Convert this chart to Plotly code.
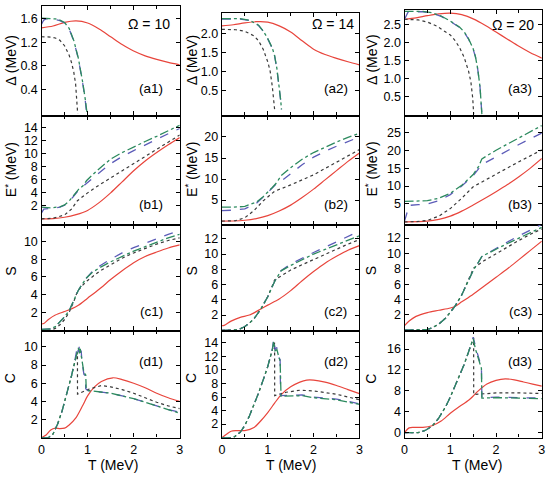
import plotly.graph_objects as go

# ---------------- data ----------------
# Panel (a): pairing gap Delta (MeV)
a1_red_T = [0, 0.25, 0.5, 0.75, 1.0, 1.25, 1.5, 1.75, 2.0, 2.25, 2.5, 2.75, 3.0]
a1_red_v = [1.44, 1.47, 1.53, 1.555, 1.52, 1.42, 1.29, 1.16, 1.05, 0.97, 0.91, 0.86, 0.82]
a1_dot_T = [0, 0.1, 0.2, 0.3, 0.4, 0.5, 0.6, 0.65, 0.7, 0.74, 0.77, 0.785]
a1_dot_v = [1.29, 1.29, 1.285, 1.27, 1.23, 1.14, 0.98, 0.86, 0.7, 0.5, 0.25, 0.0]
a1_blu_T = [0, 0.05, 0.1, 0.3, 0.4, 0.5, 0.6, 0.7, 0.8, 0.85, 0.9, 0.95, 0.98]
a1_blu_v = [1.5, 1.57, 1.59, 1.58, 1.56, 1.52, 1.42, 1.22, 0.92, 0.72, 0.48, 0.22, 0.0]
a1_grn_T = [0, 0.3, 0.4, 0.5, 0.6, 0.7, 0.8, 0.85, 0.9, 0.95, 0.99]
a1_grn_v = [1.6, 1.59, 1.57, 1.53, 1.43, 1.23, 0.93, 0.73, 0.5, 0.24, 0.0]

a2_red_T = [0, 0.25, 0.5, 0.75, 1.0, 1.25, 1.5, 1.75, 2.0, 2.25, 2.5, 2.75, 3.0]
a2_red_v = [2.19, 2.22, 2.27, 2.30, 2.29, 2.19, 2.03, 1.8, 1.58, 1.44, 1.34, 1.25, 1.17]
a2_dot_T = [0, 0.3, 0.5, 0.7, 0.8, 0.9, 1.0, 1.05, 1.1, 1.13, 1.15]
a2_dot_v = [2.10, 2.09, 2.05, 1.93, 1.8, 1.58, 1.25, 1.02, 0.6, 0.3, 0.0]
a2_blu_T = [0, 0.4, 0.6, 0.8, 0.9, 1.0, 1.1, 1.15, 1.2, 1.25, 1.28, 1.3]
a2_blu_v = [2.37, 2.37, 2.33, 2.2, 2.05, 1.85, 1.6, 1.4, 1.05, 0.6, 0.25, 0.0]
a2_grn_T = [0, 0.4, 0.6, 0.8, 0.9, 1.0, 1.1, 1.15, 1.2, 1.25, 1.28, 1.3]
a2_grn_v = [2.38, 2.38, 2.34, 2.21, 2.06, 1.86, 1.61, 1.41, 1.07, 0.62, 0.27, 0.0]

a3_red_T = [0, 0.25, 0.5, 0.75, 1.0, 1.25, 1.5, 1.75, 2.0, 2.25, 2.5, 2.75, 3.0]
a3_red_v = [2.66, 2.70, 2.76, 2.81, 2.83, 2.79, 2.67, 2.5, 2.3, 2.1, 1.9, 1.72, 1.57]
a3_dot_T = [0, 0.3, 0.5, 0.7, 0.9, 1.0, 1.1, 1.2, 1.3, 1.4, 1.45, 1.49, 1.51]
a3_dot_v = [2.66, 2.64, 2.58, 2.47, 2.3, 2.22, 2.07, 1.87, 1.6, 1.2, 0.9, 0.45, 0.0]
a3_blu_T = [0, 0.08, 0.4, 0.6, 0.8, 1.0, 1.2, 1.3, 1.4, 1.5, 1.55, 1.6, 1.65, 1.69]
a3_blu_v = [2.66, 2.87, 2.87, 2.83, 2.74, 2.6, 2.43, 2.3, 2.1, 1.82, 1.6, 1.25, 0.75, 0.0]
a3_grn_T = [0, 0.4, 0.6, 0.8, 1.0, 1.2, 1.3, 1.4, 1.5, 1.55, 1.6, 1.65, 1.69]
a3_grn_v = [2.88, 2.88, 2.84, 2.75, 2.61, 2.44, 2.31, 2.11, 1.83, 1.61, 1.26, 0.76, 0.0]

# Panel (b): excitation energy E* (MeV)
b1_red_T = [0, 0.25, 0.5, 0.75, 1.0, 1.25, 1.5, 1.75, 2.0, 2.25, 2.5, 2.75, 3.0]
b1_red_v = [0, 0.05, 0.25, 0.65, 1.3, 2.5, 4.0, 5.7, 7.4, 8.9, 10.2, 11.4, 12.5]
b1_dot_T = [0, 0.25, 0.5, 0.65, 0.78, 1.0, 1.25, 1.5, 1.75, 2.0, 2.25, 2.5, 2.75, 3.0]
b1_dot_v = [0, 0.1, 0.6, 1.5, 2.8, 4.0, 5.2, 6.3, 7.4, 8.5, 9.6, 10.6, 11.8, 12.9]
b1_blu_T = [0, 0.05, 0.2, 0.4, 0.5, 0.6, 0.7, 0.8, 0.9, 0.98, 1.2, 1.5, 1.75, 2.0, 2.25, 2.5, 2.75, 3.0]
b1_blu_v = [0.9, 1.5, 1.6, 1.8, 2.1, 2.7, 3.5, 4.4, 5.0, 5.5, 6.8, 8.5, 9.6, 10.5, 11.4, 12.2, 13.1, 13.9]
b1_grn_T = [0, 0.2, 0.4, 0.5, 0.6, 0.7, 0.8, 0.9, 0.98, 1.2, 1.5, 1.75, 2.0, 2.25, 2.5, 2.75, 3.0]
b1_grn_v = [1.8, 1.7, 1.85, 2.15, 2.75, 3.6, 4.5, 5.1, 5.9, 7.4, 9.2, 10.2, 11.1, 11.9, 12.7, 13.6, 14.4]

b2_red_T = [0, 0.25, 0.5, 0.75, 1.0, 1.25, 1.5, 1.75, 2.0, 2.25, 2.5, 2.75, 3.0]
b2_red_v = [0, 0.03, 0.2, 0.6, 1.3, 2.4, 3.8, 5.6, 7.6, 9.8, 12.0, 14.2, 16.2]
b2_dot_T = [0, 0.3, 0.5, 0.7, 0.9, 1.15, 1.5, 2.0, 2.5, 3.0]
b2_dot_v = [0, 0.1, 0.8, 2.5, 4.8, 7.1, 8.6, 11.0, 14.0, 17.0]
b2_blu_T = [0, 0.25, 0.5, 0.75, 0.9, 1.0, 1.1, 1.2, 1.29, 1.5, 1.75, 2.0, 2.25, 2.5, 2.75, 3.0]
b2_blu_v = [2.5, 2.6, 2.9, 4.2, 5.7, 6.8, 8.0, 9.0, 9.5, 11.3, 13.4, 15.2, 16.6, 17.8, 18.9, 20.0]
b2_grn_T = [0, 0.25, 0.5, 0.75, 0.9, 1.0, 1.1, 1.2, 1.29, 1.5, 1.75, 2.0, 2.25, 2.5, 2.75, 3.0]
b2_grn_v = [3.3, 3.3, 3.5, 4.5, 5.8, 6.8, 8.0, 9.2, 10.8, 12.7, 14.7, 16.3, 17.6, 18.8, 19.9, 20.9]

b3_red_T = [0, 0.5, 0.75, 1.0, 1.25, 1.5, 1.75, 2.0, 2.25, 2.5, 2.75, 3.0]
b3_red_v = [0, 0.2, 0.7, 1.6, 3.0, 4.7, 6.5, 8.4, 10.4, 12.6, 15.0, 17.7]
b3_dot_T = [0, 0.25, 0.5, 0.75, 1.0, 1.25, 1.5, 1.75, 2.0, 2.5, 3.0]
b3_dot_v = [0, 0.05, 0.4, 1.6, 3.7, 6.6, 9.8, 11.6, 13.3, 16.8, 20.1]
b3_blu_T = [0, 0.05, 0.1, 0.3, 0.5, 0.75, 1.0, 1.25, 1.5, 1.69, 2.0, 2.25, 2.5, 2.75, 3.0]
b3_blu_v = [0.2, 2.5, 4.6, 4.8, 5.0, 5.9, 7.6, 10.0, 12.9, 16.0, 18.2, 19.9, 21.6, 23.2, 24.8]
b3_grn_T = [0, 0.3, 0.5, 0.75, 1.0, 1.25, 1.5, 1.62, 1.69, 2.0, 2.25, 2.5, 2.75, 3.0]
b3_grn_v = [5.7, 5.7, 5.9, 6.6, 8.0, 10.2, 13.2, 15.5, 17.6, 20.0, 21.7, 23.3, 25.1, 26.9]

# Panel (c): entropy S
c1_red_T = [0, 0.05, 0.15, 0.3, 0.5, 0.65, 0.8, 1.0, 1.25, 1.5, 1.75, 2.0, 2.25, 2.5, 2.75, 3.0]
c1_red_v = [0.7, 0.75, 1.2, 1.7, 2.1, 2.4, 2.8, 3.6, 4.6, 5.7, 6.7, 7.6, 8.3, 8.8, 9.25, 9.6]
c1_dot_T = [0, 0.2, 0.3, 0.4, 0.5, 0.6, 0.7, 0.78, 0.9, 1.0, 1.25, 1.5, 1.75, 2.0, 2.25, 2.5, 2.75, 3.0]
c1_dot_v = [0, 0.02, 0.2, 0.6, 1.2, 2.0, 3.2, 4.4, 5.1, 5.6, 6.6, 7.4, 8.1, 8.7, 9.2, 9.7, 10.1, 10.4]
c1_blu_T = [0, 0.2, 0.3, 0.4, 0.5, 0.6, 0.7, 0.8, 0.9, 0.98, 1.1, 1.25, 1.5, 1.75, 2.0, 2.25, 2.5, 2.75, 3.0]
c1_blu_v = [0.1, 0.15, 0.4, 0.9, 1.5, 2.2, 3.3, 4.5, 5.3, 5.9, 6.6, 7.2, 8.0, 8.7, 9.3, 9.8, 10.3, 10.8, 11.2]
c1_grn_T = [0, 0.2, 0.3, 0.4, 0.5, 0.6, 0.7, 0.8, 0.9, 0.98, 1.1, 1.25, 1.5, 1.75, 2.0, 2.25, 2.5, 2.75, 3.0]
c1_grn_v = [0.1, 0.15, 0.4, 0.9, 1.5, 2.2, 3.3, 4.5, 5.3, 5.9, 6.5, 7.0, 7.7, 8.3, 8.9, 9.4, 9.9, 10.4, 10.8]

c2_red_T = [0, 0.05, 0.2, 0.4, 0.6, 0.85, 1.0, 1.25, 1.5, 1.75, 2.0, 2.25, 2.5, 2.75, 3.0]
c2_red_v = [0.6, 0.65, 1.2, 1.7, 2.0, 2.8, 3.3, 4.1, 5.2, 6.5, 7.7, 8.8, 9.7, 10.5, 11.1]
c2_dot_T = [0, 0.3, 0.4, 0.5, 0.6, 0.7, 0.85, 1.0, 1.15, 1.3, 1.5, 1.75, 2.0, 2.25, 2.5, 2.75, 3.0]
c2_dot_v = [0, 0.05, 0.2, 0.5, 0.95, 1.5, 2.8, 4.4, 6.6, 7.2, 7.9, 8.6, 9.3, 10.0, 10.7, 11.3, 11.9]
c2_blu_T = [0, 0.3, 0.4, 0.5, 0.6, 0.7, 0.85, 1.0, 1.15, 1.29, 1.5, 1.75, 2.0, 2.25, 2.5, 2.75, 3.0]
c2_blu_v = [0, 0.05, 0.2, 0.5, 0.95, 1.5, 2.8, 4.4, 6.4, 7.8, 8.7, 9.5, 10.2, 10.9, 11.6, 12.3, 13.0]
c2_grn_T = [0, 0.3, 0.4, 0.5, 0.6, 0.7, 0.85, 1.0, 1.15, 1.29, 1.5, 1.75, 2.0, 2.25, 2.5, 2.75, 3.0]
c2_grn_v = [0, 0.05, 0.2, 0.5, 0.95, 1.5, 2.8, 4.4, 6.4, 7.8, 8.5, 9.3, 10.0, 10.6, 11.2, 11.8, 12.4]

c3_red_T = [0, 0.1, 0.25, 0.5, 0.75, 1.0, 1.1, 1.25, 1.5, 1.75, 2.0, 2.25, 2.5, 2.75, 3.0]
c3_red_v = [0.6, 1.2, 1.8, 2.3, 2.6, 2.9, 3.1, 3.7, 4.7, 5.8, 6.9, 8.0, 9.2, 10.4, 11.6]
c3_dot_T = [0, 0.4, 0.5, 0.6, 0.75, 0.9, 1.0, 1.1, 1.25, 1.4, 1.51, 1.75, 2.0, 2.25, 2.5, 2.75, 3.0]
c3_dot_v = [0, 0.02, 0.1, 0.3, 0.8, 1.6, 2.3, 3.1, 4.6, 6.6, 8.1, 9.1, 10.0, 10.9, 11.7, 12.5, 13.2]
c3_blu_T = [0, 0.4, 0.5, 0.6, 0.75, 0.9, 1.0, 1.1, 1.25, 1.4, 1.51, 1.6, 1.69, 1.75, 2.0, 2.25, 2.5, 2.75, 3.0]
c3_blu_v = [0, 0.02, 0.1, 0.3, 0.8, 1.6, 2.3, 3.1, 4.6, 6.6, 7.9, 8.7, 9.6, 9.8, 10.7, 11.5, 12.3, 13.0, 13.8]
c3_grn_T = [0, 0.4, 0.5, 0.6, 0.75, 0.9, 1.0, 1.1, 1.25, 1.4, 1.51, 1.6, 1.69, 1.75, 2.0, 2.25, 2.5, 2.75, 3.0]
c3_grn_v = [0, 0.02, 0.1, 0.3, 0.8, 1.6, 2.3, 3.1, 4.6, 6.6, 7.9, 8.7, 9.6, 9.8, 10.6, 11.3, 12.0, 12.7, 13.4]

# Panel (d): heat capacity C
d1_red_T = [0, 0.1, 0.2, 0.3, 0.4, 0.5, 0.6, 0.75, 0.9, 1.0, 1.15, 1.3, 1.55, 1.75, 2.0, 2.25, 2.5, 2.75, 3.0]
d1_red_v = [0, 0.3, 0.85, 1.05, 1.0, 1.05, 1.4, 2.2, 3.6, 4.6, 5.6, 6.2, 6.6, 6.4, 6.0, 5.5, 4.9, 4.4, 4.0]
d1_dot_T = [0, 0.15, 0.25, 0.35, 0.45, 0.55, 0.65, 0.72, 0.78, 0.781, 1.0, 1.3, 1.5, 1.75, 2.0, 2.25, 2.5, 2.75, 3.0]
d1_dot_v = [0, 0, 0.4, 1.5, 3.0, 4.8, 6.8, 8.3, 9.4, 4.8, 5.3, 5.75, 5.6, 5.3, 4.9, 4.4, 3.9, 3.5, 3.2]
d1_blu_T = [0, 0.15, 0.25, 0.35, 0.45, 0.55, 0.65, 0.72, 0.76, 0.78, 0.8, 0.82, 0.84, 0.86, 0.88, 0.92, 0.95, 0.96, 1.0, 1.2, 1.5, 1.75, 2.0, 2.25, 2.5, 2.75, 3.0]
d1_blu_v = [0, 0, 0.4, 1.5, 3.0, 4.8, 6.8, 8.4, 9.5, 10.1, 9.4, 10.0, 9.2, 9.6, 8.3, 7.0, 6.8, 5.4, 5.2, 5.1, 4.9, 4.6, 4.3, 3.9, 3.5, 3.1, 2.8]
d1_grn_T = [0, 0.15, 0.25, 0.35, 0.45, 0.55, 0.65, 0.72, 0.76, 0.78, 0.8, 0.82, 0.84, 0.86, 0.88, 0.92, 0.96, 0.97, 1.0, 1.2, 1.5, 1.75, 2.0, 2.25, 2.5, 2.75, 3.0]
d1_grn_v = [0, 0, 0.4, 1.5, 3.0, 4.8, 6.8, 8.3, 9.2, 9.8, 9.9, 9.3, 9.8, 9.1, 8.5, 7.2, 6.9, 5.5, 5.2, 5.1, 4.9, 4.6, 4.3, 3.9, 3.5, 3.1, 2.7]

d2_red_T = [0, 0.1, 0.2, 0.3, 0.5, 0.7, 0.85, 1.0, 1.15, 1.3, 1.5, 1.7, 1.85, 2.0, 2.25, 2.5, 2.75, 3.0]
d2_red_v = [0, 0.5, 0.95, 1.05, 1.05, 1.5, 2.5, 3.7, 5.1, 6.4, 7.5, 8.2, 8.5, 8.5, 8.2, 7.7, 7.1, 6.5]
d2_dot_T = [0, 0.25, 0.4, 0.5, 0.6, 0.7, 0.8, 0.9, 1.0, 1.1, 1.15, 1.151, 1.4, 1.7, 2.0, 2.5, 3.0]
d2_dot_v = [0, 0, 0.8, 1.8, 3.2, 4.8, 6.6, 8.5, 10.5, 13.0, 14.0, 6.2, 6.7, 7.0, 6.9, 6.4, 5.6]
d2_blu_T = [0, 0.25, 0.4, 0.5, 0.6, 0.7, 0.8, 0.9, 1.0, 1.1, 1.13, 1.16, 1.2, 1.23, 1.27, 1.28, 1.4, 1.75, 2.0, 2.5, 3.0]
d2_blu_v = [0, 0, 0.8, 1.8, 3.2, 4.8, 6.6, 8.5, 10.5, 13.0, 14.6, 13.0, 13.3, 12.0, 11.5, 6.2, 6.2, 6.3, 6.0, 5.7, 5.0]
d2_grn_T = [0, 0.25, 0.4, 0.5, 0.6, 0.7, 0.8, 0.9, 1.0, 1.1, 1.13, 1.16, 1.2, 1.23, 1.27, 1.29, 1.4, 1.75, 2.0, 2.5, 3.0]
d2_grn_v = [0, 0, 0.8, 1.8, 3.2, 4.8, 6.6, 8.5, 10.5, 13.0, 14.2, 12.8, 13.0, 12.2, 11.3, 6.1, 6.1, 6.2, 5.9, 5.6, 4.9]

d3_red_T = [0, 0.1, 0.2, 0.4, 0.6, 0.8, 1.0, 1.2, 1.4, 1.5, 1.6, 1.8, 2.0, 2.2, 2.4, 2.6, 2.8, 3.0]
d3_red_v = [0, 0.9, 1.0, 1.0, 1.3, 2.2, 3.7, 5.0, 6.2, 7.0, 7.9, 9.3, 10.0, 10.3, 10.1, 9.7, 9.3, 8.9]
d3_dot_T = [0, 0.3, 0.45, 0.6, 0.75, 0.9, 1.0, 1.1, 1.2, 1.3, 1.4, 1.51, 1.511, 2.0, 2.5, 3.0]
d3_dot_v = [0, 0, 0.4, 1.2, 2.8, 5.0, 6.8, 8.8, 10.8, 13.0, 15.5, 18.2, 7.3, 7.6, 7.6, 7.5]
d3_blu_T = [0, 0.3, 0.45, 0.6, 0.75, 0.9, 1.0, 1.1, 1.2, 1.3, 1.4, 1.5, 1.55, 1.6, 1.65, 1.68, 1.69, 2.0, 2.5, 3.0]
d3_blu_v = [0, 0, 0.4, 1.2, 2.8, 5.0, 6.8, 8.8, 10.8, 13.0, 15.5, 18.3, 16.5, 15.0, 13.5, 12.5, 6.7, 6.8, 6.7, 6.6]
d3_grn_T = [0, 0.3, 0.45, 0.6, 0.75, 0.9, 1.0, 1.1, 1.2, 1.3, 1.4, 1.5, 1.55, 1.6, 1.65, 1.68, 1.69, 2.0, 2.5, 3.0]
d3_grn_v = [0, 0, 0.4, 1.2, 2.8, 5.0, 6.8, 8.8, 10.8, 13.0, 15.5, 18.0, 16.0, 14.6, 13.2, 12.3, 6.6, 6.7, 6.6, 6.5]

omega_labels = ["Ω = 10", "Ω = 14", "Ω = 20"]
row_ytitles = ["Δ (MeV)", "E<sup>*</sup> (MeV)", "S", "C"]
x_ticks = [0, 1, 2, 3]
y_ticks = {
    "a1": [0.4, 0.8, 1.2, 1.6], "a2": [0.5, 1.0, 1.5, 2.0], "a3": [0.5, 1.0, 1.5, 2.0, 2.5],
    "b1": [2, 4, 6, 8, 10, 12, 14], "b2": [5, 10, 15, 20], "b3": [5, 10, 15, 20, 25],
    "c1": [2, 4, 6, 8, 10], "c2": [2, 4, 6, 8, 10, 12], "c3": [2, 4, 6, 8, 10, 12],
    "d1": [2, 4, 6, 8, 10], "d2": [2, 4, 6, 8, 10, 12, 14], "d3": [0, 4, 8, 12, 16],
}
y_tickfmt = {"a1": ".1f", "a2": ".1f", "a3": ".1f"}

# ---------------- layout / style ----------------
W, H = 554, 478
FONT = "Liberation Sans, Arial, Helvetica, sans-serif"
col_x = [(39, 179), (221.7, 361), (406.7, 545.7)]
row_top = {"a": [6, 13, 10], "b": [116] * 3, "c": [226] * 3, "d": [332] * 3}
row_bot = {"a": 116, "b": 226, "c": 332, "d": 439.5}
y_range = {
    "a1": [-0.03, 1.806], "a2": [-0.16, 2.53], "a3": [-0.04, 2.92],
    "b1": [-0.95, 15.9], "b2": [-0.94, 25.1], "b3": [-0.9, 29.7],
    "c1": [-0.05, 11.84], "c2": [-0.04, 13.8], "c3": [-0.05, 13.7],
    "d1": [0.0, 11.8], "d2": [0.0, 15.8], "d3": [-0.98, 19.55],
}
styles = {
    "red": dict(color="#e8453c", dash="solid", width=1.2, shape="spline", smoothing=0.8),
    "dot": dict(color="#3a3a3a", dash="dot", width=1.2),
    "blu": dict(color="#5c5cb8", dash="dash", width=1.3),
    "grn": dict(color="#2c8a5e", dash="dashdot", width=1.3),
}


def ann(text, xpx, ypx, size, angle=0):
    return dict(text=text, x=xpx / W, y=1 - ypx / H, xref="paper", yref="paper",
                xanchor="center", yanchor="middle", showarrow=False,
                textangle=angle, font=dict(family=FONT, size=size, color="black"))


fig = go.Figure()
g = globals()
rows = ["a", "b", "c", "d"]
annotations = []
idx = 0
for ri, r in enumerate(rows):
    for ci in range(3):
        idx += 1
        key = f"{r}{ci + 1}"
        xa = "xaxis" if idx == 1 else f"xaxis{idx}"
        ya = "yaxis" if idx == 1 else f"yaxis{idx}"
        xr = "x" if idx == 1 else f"x{idx}"
        yr = "y" if idx == 1 else f"y{idx}"
        for s in ["red", "dot", "blu", "grn"]:
            fig.add_trace(go.Scatter(
                x=g[f"{key}_{s}_T"], y=g[f"{key}_{s}_v"], mode="lines",
                line=styles[s], xaxis=xr, yaxis=yr, showlegend=False,
                hoverinfo="skip"))
        x0, x1 = col_x[ci]
        top = row_top[r][ci]
        bot = row_bot[r]
        axis_common = dict(showline=True, linecolor="black", linewidth=1.4,
                           mirror="allticks", ticks="inside", ticklen=4,
                           tickcolor="black", tickwidth=1, showgrid=False,
                           zeroline=False,
                           tickfont=dict(family=FONT, size=12.5, color="black"))
        fig.layout[xa] = dict(domain=[x0 / W, x1 / W], range=[0, 3],
                              anchor=yr, tickvals=x_ticks,
                              showticklabels=(r == "d"),
                              minor=dict(dtick=0.5, ticks="inside", ticklen=3,
                                         tickcolor="black"),
                              **axis_common)
        fig.layout[ya] = dict(domain=[1 - bot / H, 1 - top / H],
                              range=y_range[key], anchor=xr,
                              tickvals=y_ticks[key],
                              tickformat=y_tickfmt.get(key, ""),
                              **axis_common)
        lab_x = [150, 337, 524][ci]
        lab_y = {"a": 89, "b": 205, "c": 313, "d": 363}[r]
        annotations.append(ann(f"({key})", lab_x, lab_y, 13.5))
        tx = [8, 191, 373][ci]
        ty = {"a": 60, "b": 170, "c": 272, "d": 380}[r]
        annotations.append(ann(row_ytitles[ri], tx, ty, 14, -90))

for ci in range(3):
    annotations.append(ann(omega_labels[ci], [148, 334, 517][ci], [24, 24, 25][ci], 14))
    annotations.append(ann("T (MeV)", [111, 292, 480][ci], 467, 14))

fig.update_layout(width=W, height=H, margin=dict(l=0, r=0, t=0, b=0),
                  paper_bgcolor="white", plot_bgcolor="white",
                  annotations=annotations, showlegend=False)

fig.write_html("out.html")
